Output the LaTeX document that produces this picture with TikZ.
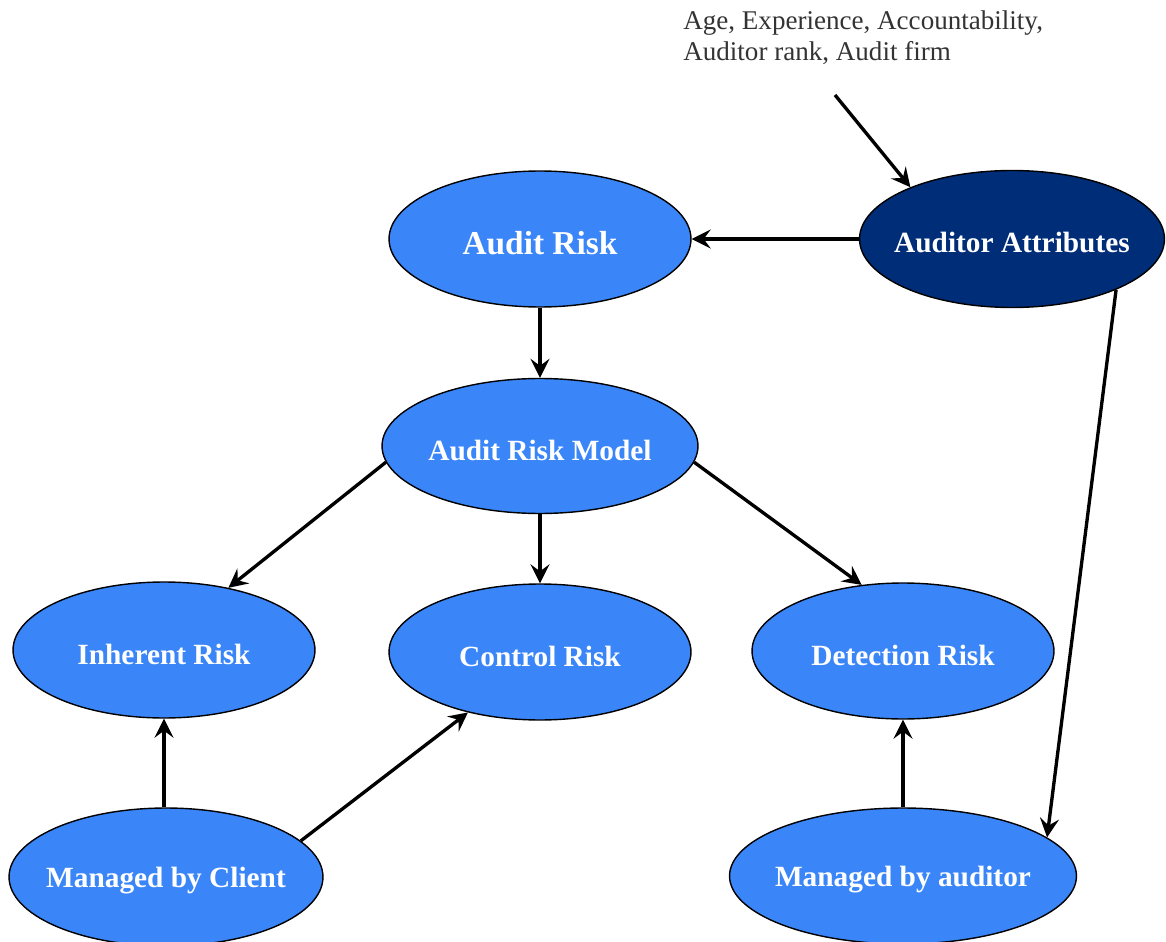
\documentclass[tikz,border=0pt]{standalone}
\usepackage{fontspec}
\setmainfont{Liberation Serif}
\usetikzlibrary{shapes.geometric,arrows.meta}
\definecolor{riskblue}{RGB}{58,134,248}
\definecolor{attrnavy}{RGB}{0,45,120}
\newcommand{\risklabel}[1]{\makebox[0pt]{\raisebox{-0.08cm}[\height][\depth]{#1}}}
\tikzset{
  risk/.style={ellipse, draw=black, line width=0.8pt, fill=riskblue, text=white,
    font=\bfseries\fontsize{16.7}{19}\selectfont, inner sep=0pt,
    minimum width=6.04cm, minimum height=2.72cm},
  link/.style={-{Stealth[length=3.8mm,width=3.8mm,inset=1.4mm]}, line width=1.9pt}
}
\begin{document}
\begin{tikzpicture}[x=0.02cm, y=-0.02cm]
      \useasboundingbox (0,0) rectangle (1166,942);
      \draw
        (540,239) node[risk, font=\bfseries\fontsize{19}{22}\selectfont] (ar){\risklabel{Audit Risk}}
        (1012,239) node[risk, fill=attrnavy, minimum width=6.1cm, minimum height=2.74cm] (aa){\risklabel{Auditor Attributes}}
        (540,446) node[risk, minimum width=6.32cm, minimum height=2.7cm] (arm){\risklabel{Audit Risk Model}}
        (164,650) node[risk] (ir){\risklabel{Inherent Risk}}
        (540,652) node[risk] (cr){\risklabel{Control Risk}}
        (903,651) node[risk] (dr){\risklabel{Detection Risk}}
        (166,877) node[risk, minimum width=6.28cm, minimum height=2.76cm] (mc){\risklabel{Managed by Client}}
        (903,876) node[risk, minimum width=6.94cm] (ma){\risklabel{Managed by auditor}};
      \node[anchor=north west, inner sep=0pt, align=left, text=black!80,
        font=\fontsize{15.4}{18}\selectfont] (attrs) at (683,10)
        {Age, Experience, Accountability,\\Auditor rank, Audit firm};
      \coordinate (feed) at (835,95);
      \begin{scope}[link]
        \draw (feed) to (aa.153);
        \draw (aa) to (ar);
        \draw (ar) to (arm);
        \draw (arm.186) to (ir.44);
        \draw (arm) to (cr);
        \draw (arm.354) to (dr.122);
        \draw (mc.north -| ir.south) to (ir.south);
        \draw (mc.15) to (cr.220);
        \draw (ma.north -| dr.south) to (dr.south);
        \draw (aa.334) to (ma.15);
      \end{scope}
    \end{tikzpicture}
\end{document}
